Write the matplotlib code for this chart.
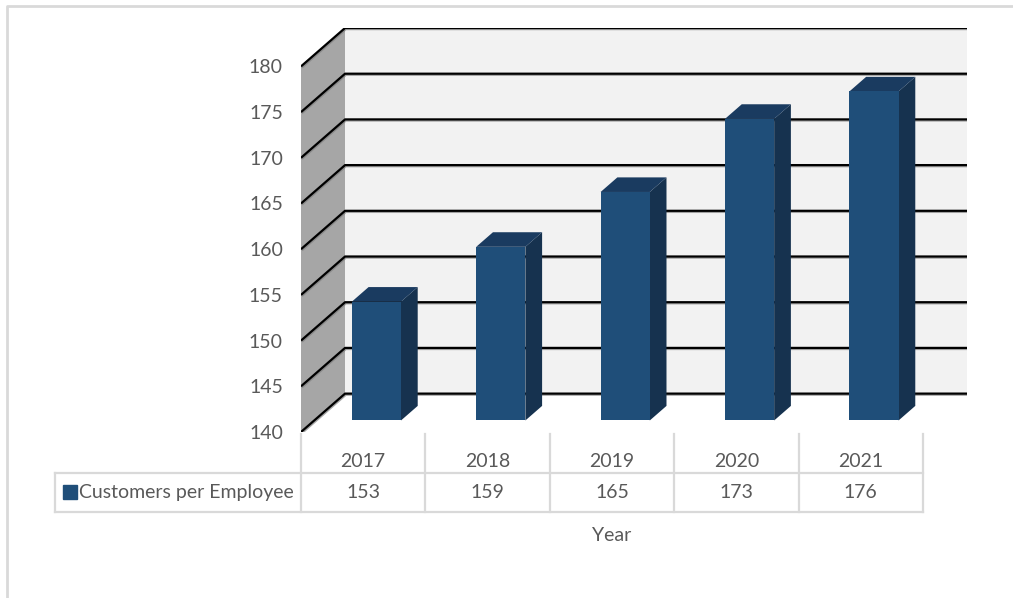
import matplotlib

matplotlib.use("Agg")
import matplotlib.pyplot as plt
import matplotlib.patheffects as pe
from matplotlib import transforms
from matplotlib.lines import Line2D
from matplotlib.patches import Polygon, Rectangle

years = ["2017", "2018", "2019", "2020", "2021"]
customers_per_employee = [153, 159, 165, 173, 176]
series_name = "Customers per Employee"
axis_title = "Year"
y_ticks = [140, 145, 150, 155, 160, 165, 170, 175, 180]

# look of the pseudo 3d box
DX, DY = 0.354, 4.2       # full depth offset (category units, value units)
Z0, Z1 = 0.30, 0.68       # bar front/back depth as fraction of the box depth
BAR_W = 0.395
FRONT, SIDE, TOP = "#1f4e79", "#16324f", "#1a3b60"
TEXT = "#595959"
TABLE_LINE = "#d9d9d9"

plt.rcParams["font.family"] = ["Lato", "DejaVu Sans"]

W, H = 1013, 598
fig = plt.figure(figsize=(W / 100, H / 100), dpi=100)


def frac(left, top, right, bottom):
    return [left / W, 1 - bottom / H, (right - left) / W, (bottom - top) / H]


ymin, ymax = y_ticks[0], y_ticks[-1]
n = len(years)

ax = fig.add_axes(frac(301, 28, 967, 432))
ax.set_xlim(-0.5, n - 0.5 + DX)
ax.set_ylim(ymin, ymax + DY)
ax.set_frame_on(False)
ax.set_xticks([])
ax.set_yticks(y_ticks, [str(t) for t in y_ticks])
ax.tick_params(axis="y", length=0, pad=13, labelsize=14, labelcolor=TEXT)

# side wall and back wall
xl = -0.5
xr = n - 0.5
ax.add_patch(Polygon([(xl, ymin), (xl, ymax), (xl + DX, ymax + DY), (xl + DX, ymin + DY)],
                     closed=True, facecolor="#a6a6a6", edgecolor="none", zorder=1))
ax.add_patch(Rectangle((xl + DX, ymin + DY), xr - xl, ymax - ymin,
                       facecolor="#f2f2f2", edgecolor="none", zorder=1))

shadow = [pe.SimpleLineShadow(offset=(0.6, -0.8), shadow_color="#7f7f7f", alpha=0.7), pe.Normal()]
for t in y_ticks:
    ax.plot([xl, xl + DX, xr + DX], [t, t + DY, t + DY], color="black", lw=1.6,
            solid_capstyle="butt", zorder=2, path_effects=shadow)

# bars
for i, v in enumerate(customers_per_employee):
    x0 = i - BAR_W / 2 + Z0 * DX
    x1 = i + BAR_W / 2 + Z0 * DX
    y0 = ymin + Z0 * DY
    y1 = v + Z0 * DY
    ddx = (Z1 - Z0) * DX
    ddy = (Z1 - Z0) * DY
    ax.add_patch(Polygon([(x1, y0), (x1, y1), (x1 + ddx, y1 + ddy), (x1 + ddx, y0 + ddy)],
                         closed=True, facecolor=SIDE, edgecolor="none", zorder=3))
    ax.add_patch(Polygon([(x0, y1), (x1, y1), (x1 + ddx, y1 + ddy), (x0 + ddx, y1 + ddy)],
                         closed=True, facecolor=TOP, edgecolor="none", zorder=3))
    ax.add_patch(Rectangle((x0, y0), x1 - x0, y1 - y0, facecolor=FRONT,
                           edgecolor="none", zorder=4))

# data table under the chart
cat_px = (923 - 301) / n
tleft = -0.5 - (301 - 55) / cat_px
tab = fig.add_axes(frac(55, 434, 923, 512))
tab.set_xlim(tleft, n - 0.5)
tab.set_ylim(0, 2)
tab.axis("off")

line_kw = dict(color=TABLE_LINE, lw=1.6, solid_capstyle="projecting", clip_on=False)
tab.plot([tleft, n - 0.5], [1, 1], **line_kw)
tab.plot([tleft, n - 0.5], [0, 0], **line_kw)
tab.plot([tleft, tleft], [0, 1], **line_kw)
for k in range(n + 1):
    tab.plot([k - 0.5, k - 0.5], [0, 2], **line_kw)

for i, (yr, v) in enumerate(zip(years, customers_per_employee)):
    tab.text(i, 1.15, yr, ha="center", va="baseline", fontsize=14, color=TEXT)
    tab.text(i, 0.36, str(v), ha="center", va="baseline", fontsize=14, color=TEXT)

key_tr = transforms.offset_copy(tab.transData, fig=fig, x=14.5, y=0, units="dots")
tab.plot([tleft], [0.52], marker="s", markersize=9.5, color=FRONT, transform=key_tr,
         clip_on=False)
txt_tr = transforms.offset_copy(tab.transData, fig=fig, x=24, y=0, units="dots")
tab.text(tleft, 0.36, series_name, ha="left", va="baseline", fontsize=14, color=TEXT,
         transform=txt_tr)

tab.text((n - 1) / 2, -0.59, axis_title, ha="center", va="center", fontsize=14, color=TEXT)

# chart area border (only top and left edges are visible in the crop)
fig.add_artist(Line2D([7 / W, 7 / W, 1], [0, 1 - 6 / H, 1 - 6 / H],
                      transform=fig.transFigure, color=TABLE_LINE, lw=2))

fig.savefig("out.png", dpi=100, facecolor="white")
